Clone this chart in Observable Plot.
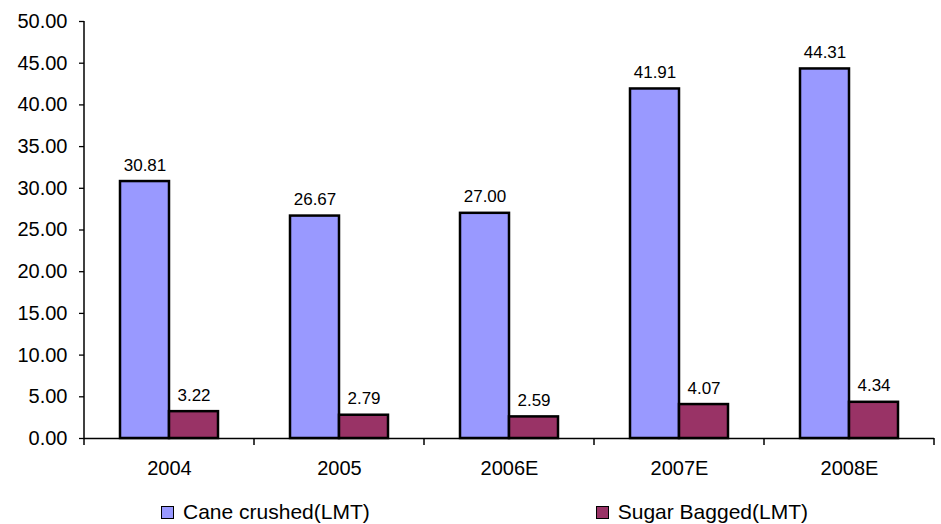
<!DOCTYPE html>
<html>
<head>
<meta charset="utf-8">
<script src="https://cdn.jsdelivr.net/npm/d3@7"></script>
<script src="https://cdn.jsdelivr.net/npm/@observablehq/plot@0.6"></script>
<style>
  body { margin: 0; background: #fff; font-family: "Liberation Sans", Arial, sans-serif; }
  #legend { display: flex; align-items: center; height: 24px; padding-top: 10px; margin-left: 161px; font-size: 21px; color: #000; }
  #legend .item { display: flex; align-items: center; }
  #legend .item + .item { margin-left: 226px; }
  #legend .sw { width: 11px; height: 11px; border: 1.5px solid #000; margin-right: 9px; }
</style>
</head>
<body>
<div id="chart"></div>
<div id="legend"></div>
<script>
// Sugar mill output, lakh metric tonnes (E = estimate)
const years = ["2004", "2005", "2006E", "2007E", "2008E"];
const caneCrushed = [30.81, 26.67, 27.00, 41.91, 44.31];
const sugarBagged = [3.22, 2.79, 2.59, 4.07, 4.34];
const seriesNames = ["Cane crushed(LMT)", "Sugar Bagged(LMT)"];
const seriesColors = ["#9999FF", "#993366"];
const yTicks = [0, 5, 10, 15, 20, 25, 30, 35, 40, 45, 50];

const rows = [];
years.forEach((yr, i) => {
  rows.push({year: yr, series: seriesNames[0], value: caneCrushed[i]});
  rows.push({year: yr, series: seriesNames[1], value: sugarBagged[i]});
});

const fmt = d3.format(".2f");

const chart = Plot.plot({
  width: 941,
  height: 490,
  marginLeft: 83,
  marginRight: 7,
  marginTop: 21,
  marginBottom: 52,
  style: {fontFamily: "'Liberation Sans', Arial, sans-serif", fontSize: "20px", color: "#000", background: "#fff"},
  fx: {domain: years, padding: 0},
  x: {domain: seriesNames, paddingInner: 0, paddingOuter: 0.72, axis: null},
  y: {domain: [0, 50]},
  color: {domain: seriesNames, range: seriesColors},
  marks: [
    Plot.axisY({ticks: yTicks, tickFormat: fmt, tickSize: 5, tickPadding: 12, label: null, fontSize: 20, stroke: "#000", strokeWidth: 1.3}),
    Plot.axisFx({anchor: "bottom", tickSize: 0, tickPadding: 22, label: null, fontSize: 20}),
    Plot.barY(rows, {fx: "year", x: "series", y: "value", fill: "series", stroke: "#000", strokeWidth: 2.5}),
    Plot.text(rows, {fx: "year", x: "series", y: "value", text: d => fmt(d.value), lineAnchor: "bottom", dy: -11, fontSize: 17, fill: "#000"}),
    Plot.ruleY([0], {stroke: "#000", strokeWidth: 1.5})
  ]
});

// Axis line and category separator ticks, placed with the fx and y scales
const fx = chart.scale("fx");
const y = chart.scale("y");
const y0 = y.apply(0);
const y50 = y.apply(50);
const xLeft = fx.apply(years[0]);
const edges = years.map(yr => fx.apply(yr)).concat([fx.apply(years[years.length - 1]) + fx.bandwidth]);
const g = d3.select(chart).append("g").attr("stroke", "#000").attr("stroke-width", 1.5);
g.append("line").attr("x1", xLeft).attr("x2", xLeft).attr("y1", y50).attr("y2", y0);
g.selectAll("line.sep")
  .data(edges)
  .join("line")
  .attr("class", "sep")
  .attr("x1", d => d).attr("x2", d => d)
  .attr("y1", y0).attr("y2", y0 + 7);

document.getElementById("chart").appendChild(chart);

const legend = d3.select("#legend");
seriesNames.forEach((name, i) => {
  const item = legend.append("div").attr("class", "item");
  item.append("div").attr("class", "sw").style("background", seriesColors[i]);
  item.append("span").text(name);
});
</script>
</body>
</html>
